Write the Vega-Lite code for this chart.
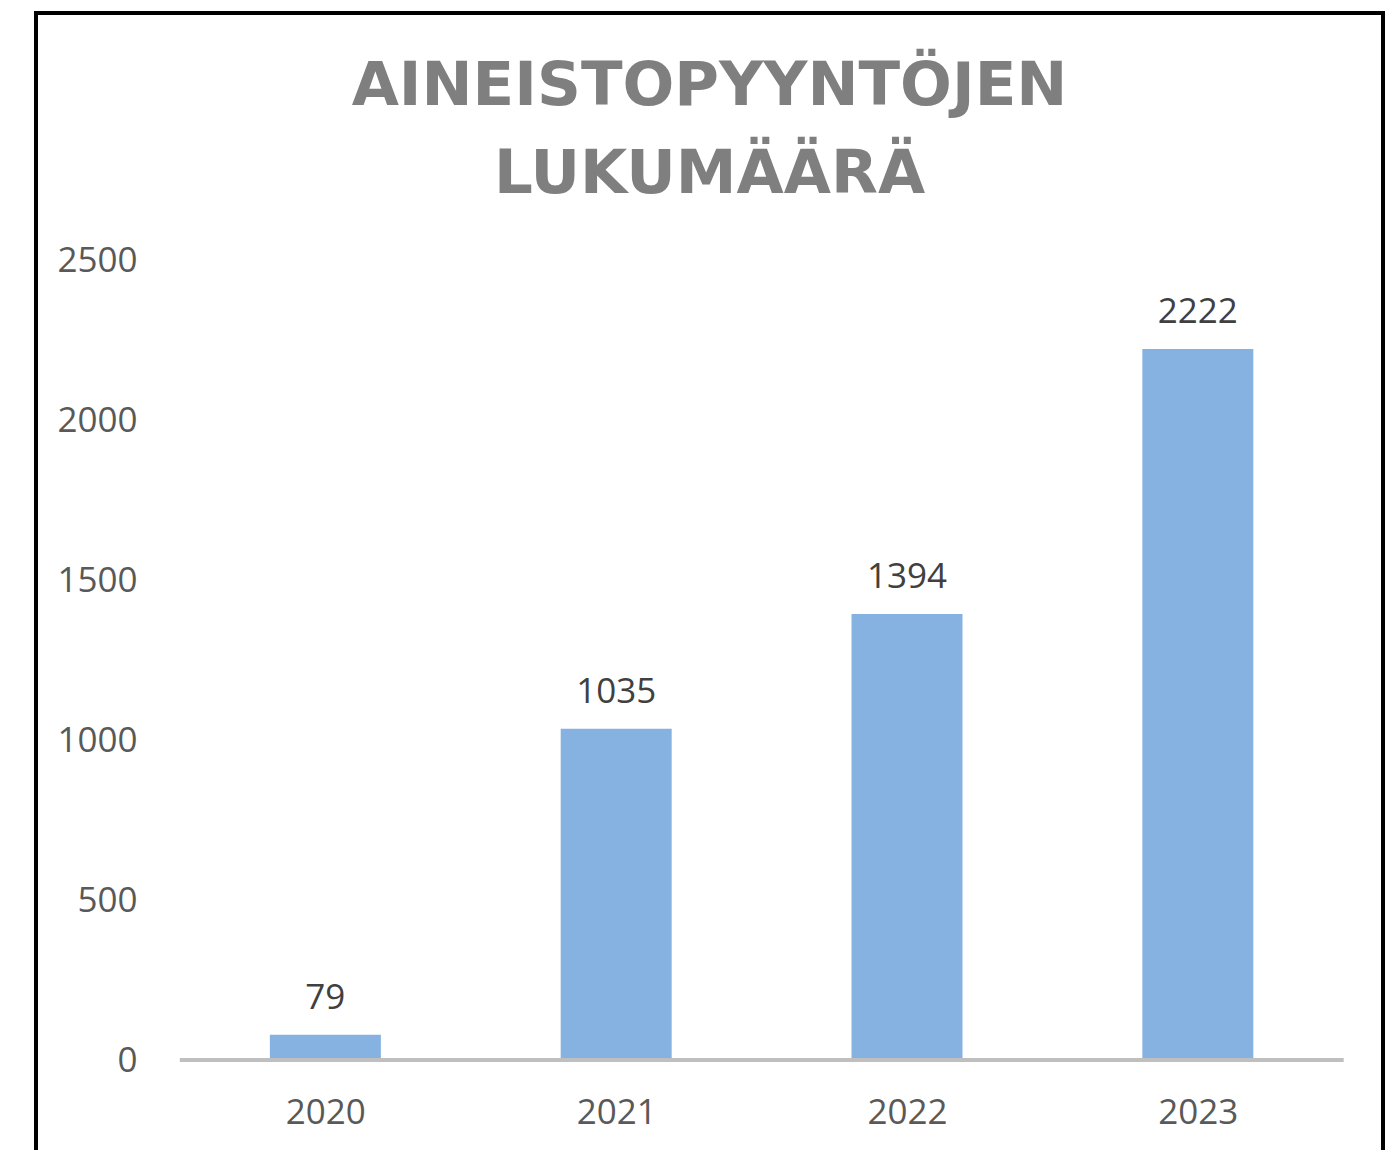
{
  "$schema": "https://vega.github.io/schema/vega-lite/v6.json",
  "autosize": "none",
  "width": 1347,
  "height": 1139,
  "padding": {"left": 36, "top": 13, "right": 5, "bottom": -2},
  "background": "white",
  "config": {"view": {"stroke": "#000000", "strokeWidth": 4}, "font": "Open Sans"},
  "title": {
    "text": ["AINEISTOPYYNTÖJEN", "LUKUMÄÄRÄ"],
    "anchor": "middle",
    "font": "DejaVu Sans",
    "fontSize": 61,
    "fontWeight": "bold",
    "color": "#7f7f7f",
    "baseline": "top",
    "lineHeight": 88,
    "offset": -42,
    "dy": 151
  },
  "data": {"values": [
    {"year": 2020, "count": 79},
    {"year": 2021, "count": 1035},
    {"year": 2022, "count": 1394},
    {"year": 2023, "count": 2222}
  ]},
  "encoding": {
    "x": {"field": "year", "type": "quantitative",
      "scale": {"domain": [2019.0222, 2023.6195], "nice": false, "zero": false},
      "axis": {"values": [2020, 2021, 2022, 2023], "format": "d", "orient": "bottom", "offset": -92,
        "domain": false, "ticks": false, "grid": false, "labelPadding": 35, "labelFontSize": 35,
        "labelFont": "Open Sans", "labelColor": "#595959", "title": null, "labelFlush": false}},
    "y": {"field": "count", "type": "quantitative",
      "scale": {"domain": [-287.5, 3271.875], "nice": false, "zero": false},
      "axis": {"values": [0, 500, 1000, 1500, 2000, 2500], "format": "d", "orient": "left", "offset": -101,
        "domain": false, "ticks": false, "grid": false, "labelPadding": 0, "labelFontSize": 35,
        "labelFont": "Open Sans", "labelColor": "#595959", "title": null, "labelFlush": false}}
  },
  "layer": [
    {"mark": {"type": "bar", "width": 111, "fill": "#86b2e1"},
     "encoding": {"y2": {"datum": 0}}},
    {"mark": {"type": "rule", "color": "#bfbfbf", "strokeWidth": 4},
     "encoding": {"x": {"datum": 2019.5}, "x2": {"datum": 2023.5}, "y": {"datum": 0}}},
    {"mark": {"type": "text", "baseline": "alphabetic", "dy": -26, "fontSize": 35, "font": "Open Sans", "color": "#404040"},
     "encoding": {"text": {"field": "count", "type": "quantitative"}}}
  ]
}
